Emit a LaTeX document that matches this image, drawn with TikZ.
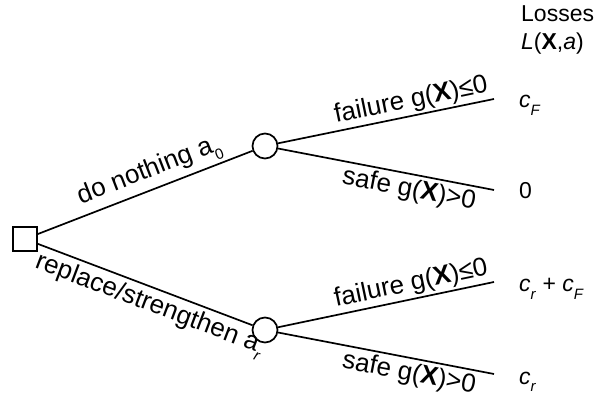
\documentclass[tikz,border=0pt]{standalone}
\usepackage{fontspec}
\setmainfont{Liberation Sans}
\usetikzlibrary{positioning}

\newcommand{\lowsub}[1]{\raisebox{-0.32em}{\fontsize{15}{15}\selectfont #1}}

\begin{document}
\begin{tikzpicture}[x=1pt,y=-1pt,
  every node/.style={font=\fontsize{26}{30}\selectfont},
  branch/.style={line width=1.7pt},
  decision/.style={draw,line width=1.7pt,rectangle,minimum size=24pt,inner sep=0pt},
  chance/.style={draw,line width=1.7pt,circle,minimum size=25pt,inner sep=0pt},
  loss/.style={anchor=base west,inner sep=0pt,font=\fontsize{23}{27}\selectfont}]

\useasboundingbox (0,0) rectangle (605,403);

% Decision and chance nodes
\node[decision] (dec) at (25,239) {};
\node[chance] (ch0) at (265,146) {};
\node[chance] (ch1) at (265,330) {};

% Branch ends
\coordinate (end00) at (494,99);
\coordinate (end01) at (494,190);
\coordinate (end10) at (494,282);
\coordinate (end11) at (494,374);

% Actions
\draw[branch] (dec) -- (ch0) node[pos=0.55,sloped,above,inner sep=3pt] {do nothing a\lowsub{0}};
\draw[branch] (dec) -- (ch1) node[pos=0.55,sloped,below,inner sep=4pt] {replace/strengthen a\lowsub{\textit{r}}};

% Outcomes
\draw[branch] (ch0) -- (end00) node[pos=0.63,sloped,above,inner sep=2pt] {failure g(\textbf{X})≤0};
\draw[branch] (ch0) -- (end01) node[pos=0.62,sloped,below,inner sep=3pt] {safe g(\textbf{X})>0};
\draw[branch] (ch1) -- (end10) node[pos=0.63,sloped,above,inner sep=2pt] {failure g(\textbf{X})≤0};
\draw[branch] (ch1) -- (end11) node[pos=0.62,sloped,below,inner sep=3pt] {safe g(\textbf{X})>0};

% Losses column
\node[loss] (head) at (521,22) {Losses};
\node[loss] (headL) at (521,50) {\textit{L}(\textbf{X},\textit{a})};
\node[loss] (loss00) at (519,108) {\textit{c}\lowsub{\textit{F}}};
\node[loss] (loss01) at (519,199) {0};
\node[loss] (loss10) at (519,292) {\textit{c}\lowsub{\textit{r}} + \textit{c}\lowsub{\textit{F}}};
\node[loss] (loss11) at (519,384) {\textit{c}\lowsub{\textit{r}}};

\end{tikzpicture}
\end{document}
